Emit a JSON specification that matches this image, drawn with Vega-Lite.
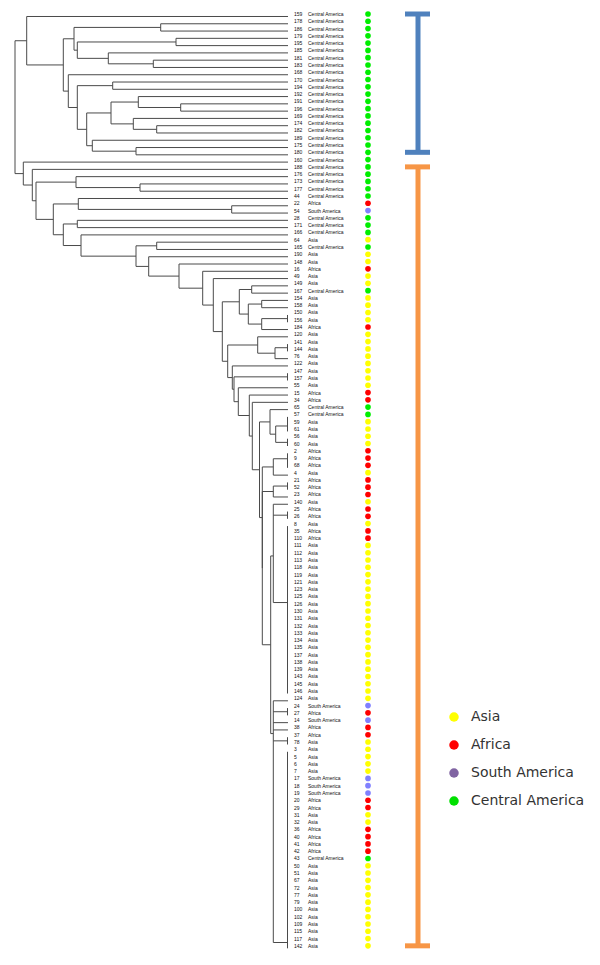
{
"$schema": "https://vega.github.io/schema/vega-lite/v6.json",
"width": 600, "height": 965, "padding": 0,
"autosize": {"type": "fit", "contains": "padding"},
"config": {"view": {"stroke": null}},
"resolve": {"scale": {"y": "independent", "color": "independent"}},
"datasets": {
"tree": [
{"h1":273,"h2":273,"r1":4.33,"r2":22.58},{"h1":273,"h2":261.3,"r1":4.33,"r2":4.33},{"h1":273,"h2":264.7,"r1":22.58,"r2":22.58},
{"h1":261.3,"h2":261.3,"r1":1,"r2":7.656},{"h1":261.3,"h2":0,"r1":1,"r2":1},{"h1":261.3,"h2":224.7,"r1":7.656,"r2":7.656},
{"h1":224.7,"h2":224.7,"r1":4.0625,"r2":11.25},{"h1":224.7,"h2":214,"r1":4.0625,"r2":4.0625},{"h1":224.7,"h2":219.7,"r1":11.25,"r2":11.25},
{"h1":214,"h2":214,"r1":2.5,"r2":5.625},{"h1":214,"h2":127.3,"r1":2.5,"r2":2.5},{"h1":214,"h2":210.7,"r1":5.625,"r2":5.625},
{"h1":127.3,"h2":127.3,"r1":2,"r2":3},{"h1":127.3,"h2":0,"r1":2,"r2":2},{"h1":127.3,"h2":0,"r1":3,"r2":3},
{"h1":210.7,"h2":210.7,"r1":4.5,"r2":6.75},{"h1":210.7,"h2":112,"r1":4.5,"r2":4.5},{"h1":210.7,"h2":179.7,"r1":6.75,"r2":6.75},
{"h1":112,"h2":112,"r1":4,"r2":5},{"h1":112,"h2":0,"r1":4,"r2":4},{"h1":112,"h2":0,"r1":5,"r2":5},
{"h1":179.7,"h2":179.7,"r1":6,"r2":7.5},{"h1":179.7,"h2":0,"r1":6,"r2":6},{"h1":179.7,"h2":134.7,"r1":7.5,"r2":7.5},
{"h1":134.7,"h2":134.7,"r1":7,"r2":8},{"h1":134.7,"h2":0,"r1":7,"r2":7},{"h1":134.7,"h2":0,"r1":8,"r2":8},
{"h1":219.7,"h2":219.7,"r1":9,"r2":13.5},{"h1":219.7,"h2":0,"r1":9,"r2":9},{"h1":219.7,"h2":210.7,"r1":13.5,"r2":13.5},
{"h1":210.7,"h2":210.7,"r1":10.5,"r2":16.5},{"h1":210.7,"h2":175.3,"r1":10.5,"r2":10.5},{"h1":210.7,"h2":201.3,"r1":16.5,"r2":16.5},
{"h1":175.3,"h2":175.3,"r1":10,"r2":11},{"h1":175.3,"h2":0,"r1":10,"r2":10},{"h1":175.3,"h2":0,"r1":11,"r2":11},
{"h1":201.3,"h2":201.3,"r1":14.25,"r2":18.75},{"h1":201.3,"h2":177,"r1":14.25,"r2":14.25},{"h1":201.3,"h2":195.7,"r1":18.75,"r2":18.75},
{"h1":177,"h2":177,"r1":12.75,"r2":15.75},{"h1":177,"h2":149.7,"r1":12.75,"r2":12.75},{"h1":177,"h2":154.7,"r1":15.75,"r2":15.75},
{"h1":149.7,"h2":149.7,"r1":12,"r2":13.5},{"h1":149.7,"h2":0,"r1":12,"r2":12},{"h1":149.7,"h2":107.3,"r1":13.5,"r2":13.5},
{"h1":107.3,"h2":107.3,"r1":13,"r2":14},{"h1":107.3,"h2":0,"r1":13,"r2":13},{"h1":107.3,"h2":0,"r1":14,"r2":14},
{"h1":154.7,"h2":154.7,"r1":15,"r2":16.5},{"h1":154.7,"h2":0,"r1":15,"r2":15},{"h1":154.7,"h2":131.3,"r1":16.5,"r2":16.5},
{"h1":131.3,"h2":131.3,"r1":16,"r2":17},{"h1":131.3,"h2":0,"r1":16,"r2":16},{"h1":131.3,"h2":0,"r1":17,"r2":17},
{"h1":195.7,"h2":195.7,"r1":18,"r2":19.5},{"h1":195.7,"h2":0,"r1":18,"r2":18},{"h1":195.7,"h2":152,"r1":19.5,"r2":19.5},
{"h1":152,"h2":152,"r1":19,"r2":20},{"h1":152,"h2":0,"r1":19,"r2":19},{"h1":152,"h2":0,"r1":20,"r2":20},
{"h1":264.7,"h2":264.7,"r1":21,"r2":24.15},{"h1":264.7,"h2":0,"r1":21,"r2":21},{"h1":264.7,"h2":255.7,"r1":24.15,"r2":24.15},
{"h1":255.7,"h2":255.7,"r1":22,"r2":26.31},{"h1":255.7,"h2":0,"r1":22,"r2":22},{"h1":255.7,"h2":252,"r1":26.31,"r2":26.31},
{"h1":252,"h2":252,"r1":23.75,"r2":28.87},{"h1":252,"h2":212,"r1":23.75,"r2":23.75},{"h1":252,"h2":234.7,"r1":28.87,"r2":28.87},
{"h1":212,"h2":212,"r1":23,"r2":24.5},{"h1":212,"h2":0,"r1":23,"r2":23},{"h1":212,"h2":148,"r1":24.5,"r2":24.5},
{"h1":148,"h2":148,"r1":24,"r2":25},{"h1":148,"h2":0,"r1":24,"r2":24},{"h1":148,"h2":0,"r1":25,"r2":25},
{"h1":234.7,"h2":234.7,"r1":26.75,"r2":30.98},{"h1":234.7,"h2":209.7,"r1":26.75,"r2":26.75},{"h1":234.7,"h2":224.7,"r1":30.98,"r2":30.98},
{"h1":209.7,"h2":209.7,"r1":26,"r2":27.5},{"h1":209.7,"h2":0,"r1":26,"r2":26},{"h1":209.7,"h2":56.3,"r1":27.5,"r2":27.5},
{"h1":56.3,"h2":56.3,"r1":27,"r2":28},{"h1":56.3,"h2":0,"r1":27,"r2":27},{"h1":56.3,"h2":0,"r1":28,"r2":28},
{"h1":224.7,"h2":224.7,"r1":29.5,"r2":32.46},{"h1":224.7,"h2":210.7,"r1":29.5,"r2":29.5},{"h1":224.7,"h2":207,"r1":32.46,"r2":32.46},
{"h1":210.7,"h2":210.7,"r1":29,"r2":30},{"h1":210.7,"h2":0,"r1":29,"r2":29},{"h1":210.7,"h2":0,"r1":30,"r2":30},
{"h1":207,"h2":207,"r1":31,"r2":33.92},{"h1":207,"h2":0,"r1":31,"r2":31},{"h1":207,"h2":152,"r1":33.92,"r2":33.92},
{"h1":152,"h2":152,"r1":32.5,"r2":35.33},{"h1":152,"h2":131.3,"r1":32.5,"r2":32.5},{"h1":152,"h2":139.3,"r1":35.33,"r2":35.33},
{"h1":131.3,"h2":131.3,"r1":32,"r2":33},{"h1":131.3,"h2":0,"r1":32,"r2":32},{"h1":131.3,"h2":0,"r1":33,"r2":33},
{"h1":139.3,"h2":139.3,"r1":34,"r2":36.66},{"h1":139.3,"h2":0,"r1":34,"r2":34},{"h1":139.3,"h2":109,"r1":36.66,"r2":36.66},
{"h1":109,"h2":109,"r1":35,"r2":38.32},{"h1":109,"h2":0,"r1":35,"r2":35},{"h1":109,"h2":85.3,"r1":38.32,"r2":38.32},
{"h1":85.3,"h2":85.3,"r1":36,"r2":40.64},{"h1":85.3,"h2":0,"r1":36,"r2":36},{"h1":85.3,"h2":74.7,"r1":40.64,"r2":40.64},
{"h1":74.7,"h2":74.7,"r1":37,"r2":44.28},{"h1":74.7,"h2":0,"r1":37,"r2":37},{"h1":74.7,"h2":65.7,"r1":44.28,"r2":44.28},
{"h1":65.7,"h2":65.7,"r1":40.19,"r2":48.36},{"h1":65.7,"h2":48.7,"r1":40.19,"r2":40.19},{"h1":65.7,"h2":60.3,"r1":48.36,"r2":48.36},
{"h1":48.7,"h2":48.7,"r1":38.5,"r2":41.875},{"h1":48.7,"h2":36.3,"r1":38.5,"r2":38.5},{"h1":48.7,"h2":39.7,"r1":41.875,"r2":41.875},
{"h1":36.3,"h2":36.3,"r1":38,"r2":39},{"h1":36.3,"h2":0,"r1":38,"r2":38},{"h1":36.3,"h2":0,"r1":39,"r2":39},
{"h1":39.7,"h2":39.7,"r1":40.5,"r2":43.25},{"h1":39.7,"h2":26.3,"r1":40.5,"r2":40.5},{"h1":39.7,"h2":26.3,"r1":43.25,"r2":43.25},
{"h1":26.3,"h2":26.3,"r1":40,"r2":41},{"h1":26.3,"h2":0,"r1":40,"r2":40},{"h1":26.3,"h2":0,"r1":41,"r2":41},
{"h1":26.3,"h2":26.3,"r1":42.5,"r2":44},{"h1":26.3,"h2":0.5,"r1":42.5,"r2":42.5},{"h1":26.3,"h2":0,"r1":44,"r2":44},
{"h1":0.5,"h2":0.5,"r1":42,"r2":43},
{"h1":60.3,"h2":60.3,"r1":46.125,"r2":50.6},{"h1":60.3,"h2":30.3,"r1":46.125,"r2":46.125},{"h1":60.3,"h2":55.7,"r1":50.6,"r2":50.6},
{"h1":30.3,"h2":30.3,"r1":45,"r2":47.25},{"h1":30.3,"h2":0,"r1":45,"r2":45},{"h1":30.3,"h2":13,"r1":47.25,"r2":47.25},
{"h1":13,"h2":13,"r1":46.5,"r2":48},{"h1":13,"h2":0.5,"r1":46.5,"r2":46.5},{"h1":13,"h2":0,"r1":48,"r2":48},
{"h1":0.5,"h2":0.5,"r1":46,"r2":47},
{"h1":55.7,"h2":55.7,"r1":49,"r2":52.2},{"h1":55.7,"h2":0,"r1":49,"r2":49},{"h1":55.7,"h2":54,"r1":52.2,"r2":52.2},
{"h1":54,"h2":54,"r1":50.5,"r2":53.91},{"h1":54,"h2":0.5,"r1":50.5,"r2":50.5},{"h1":54,"h2":49.7,"r1":53.91,"r2":53.91},
{"h1":0.5,"h2":0.5,"r1":50,"r2":51},
{"h1":49.7,"h2":49.7,"r1":52,"r2":55.81},{"h1":49.7,"h2":0,"r1":52,"r2":52},{"h1":49.7,"h2":38.7,"r1":55.81,"r2":55.81},
{"h1":38.7,"h2":38.7,"r1":53,"r2":58.63},{"h1":38.7,"h2":0,"r1":53,"r2":53},{"h1":38.7,"h2":35.7,"r1":58.63,"r2":58.63},
{"h1":35.7,"h2":35.7,"r1":54,"r2":63.26},{"h1":35.7,"h2":0,"r1":54,"r2":54},{"h1":35.7,"h2":28.5,"r1":63.26,"r2":63.26},
{"h1":28.5,"h2":28.5,"r1":56.69,"r2":69.83},{"h1":28.5,"h2":18,"r1":56.69,"r2":56.69},{"h1":28.5,"h2":25.7,"r1":69.83,"r2":69.83},
{"h1":18,"h2":18,"r1":55,"r2":58.375},{"h1":18,"h2":0,"r1":55,"r2":55},{"h1":18,"h2":12.3,"r1":58.375,"r2":58.375},
{"h1":12.3,"h2":12.3,"r1":57.25,"r2":59.5},{"h1":12.3,"h2":0.5,"r1":57.25,"r2":57.25},{"h1":12.3,"h2":0.5,"r1":59.5,"r2":59.5},
{"h1":0.5,"h2":0.5,"r1":56,"r2":58},{"h1":0.5,"h2":0.5,"r1":59,"r2":60},
{"h1":25.7,"h2":25.7,"r1":62.875,"r2":76.78},{"h1":25.7,"h2":14.7,"r1":62.875,"r2":62.875},
{"h1":14.7,"h2":14.7,"r1":61.75,"r2":64},{"h1":14.7,"h2":0.5,"r1":61.75,"r2":61.75},{"h1":14.7,"h2":0,"r1":64,"r2":64},
{"h1":0.5,"h2":0.5,"r1":61,"r2":63},
{"h1":25.7,"h2":25.7,"r1":66.25,"r2":87.3},{"h1":25.7,"h2":14.7,"r1":66.25,"r2":66.25},{"h1":25.7,"h2":17.3,"r1":87.3,"r2":87.3},
{"h1":14.7,"h2":14.7,"r1":65.5,"r2":67},{"h1":14.7,"h2":0.5,"r1":65.5,"r2":65.5},{"h1":14.7,"h2":0,"r1":67,"r2":67},
{"h1":0.5,"h2":0.5,"r1":65,"r2":66},
{"h1":17.3,"h2":17.3,"r1":75.1,"r2":99.5},{"h1":17.3,"h2":14.7,"r1":75.1,"r2":75.1},{"h1":17.3,"h2":14.7,"r1":99.5,"r2":99.5},
{"h1":14.7,"h2":14.7,"r1":68,"r2":81.5},{"h1":14.7,"h2":0,"r1":68,"r2":68},{"h1":14.7,"h2":0.5,"r1":69.5,"r2":69.5},{"h1":14.7,"h2":0.5,"r1":81.5,"r2":81.5},
{"h1":0.5,"h2":0.5,"r1":69,"r2":70},{"h1":0.5,"h2":0.5,"r1":71,"r2":94},
{"h1":14.7,"h2":14.7,"r1":95,"r2":128.2},{"h1":14.7,"h2":0,"r1":95,"r2":95},{"h1":14.7,"h2":0.5,"r1":96.5,"r2":96.5},{"h1":14.7,"h2":0,"r1":98,"r2":98},{"h1":14.7,"h2":0,"r1":99,"r2":99},{"h1":14.7,"h2":0.5,"r1":100.5,"r2":100.5},{"h1":14.7,"h2":0.5,"r1":128.2,"r2":128.2},
{"h1":0.5,"h2":0.5,"r1":96,"r2":97},{"h1":0.5,"h2":0.5,"r1":100,"r2":101},{"h1":0.5,"h2":0.5,"r1":102,"r2":129}
],
"leaves": [
{"row":1,"id":"159","region":"Central America"},{"row":2,"id":"178","region":"Central America"},{"row":3,"id":"186","region":"Central America"},{"row":4,"id":"179","region":"Central America"},{"row":5,"id":"195","region":"Central America"},{"row":6,"id":"185","region":"Central America"},{"row":7,"id":"181","region":"Central America"},{"row":8,"id":"183","region":"Central America"},{"row":9,"id":"168","region":"Central America"},{"row":10,"id":"170","region":"Central America"},
{"row":11,"id":"194","region":"Central America"},{"row":12,"id":"192","region":"Central America"},{"row":13,"id":"191","region":"Central America"},{"row":14,"id":"196","region":"Central America"},{"row":15,"id":"169","region":"Central America"},{"row":16,"id":"174","region":"Central America"},{"row":17,"id":"182","region":"Central America"},{"row":18,"id":"189","region":"Central America"},{"row":19,"id":"175","region":"Central America"},{"row":20,"id":"180","region":"Central America"},
{"row":21,"id":"160","region":"Central America"},{"row":22,"id":"188","region":"Central America"},{"row":23,"id":"176","region":"Central America"},{"row":24,"id":"173","region":"Central America"},{"row":25,"id":"177","region":"Central America"},{"row":26,"id":"44","region":"Central America"},{"row":27,"id":"22","region":"Africa"},{"row":28,"id":"54","region":"South America"},{"row":29,"id":"28","region":"Central America"},{"row":30,"id":"171","region":"Central America"},
{"row":31,"id":"166","region":"Central America"},{"row":32,"id":"64","region":"Asia"},{"row":33,"id":"165","region":"Central America"},{"row":34,"id":"190","region":"Asia"},{"row":35,"id":"148","region":"Asia"},{"row":36,"id":"16","region":"Africa"},{"row":37,"id":"49","region":"Asia"},{"row":38,"id":"149","region":"Asia"},{"row":39,"id":"167","region":"Central America"},{"row":40,"id":"154","region":"Asia"},
{"row":41,"id":"158","region":"Asia"},{"row":42,"id":"150","region":"Asia"},{"row":43,"id":"156","region":"Asia"},{"row":44,"id":"184","region":"Africa"},{"row":45,"id":"120","region":"Asia"},{"row":46,"id":"141","region":"Asia"},{"row":47,"id":"144","region":"Asia"},{"row":48,"id":"76","region":"Asia"},{"row":49,"id":"122","region":"Asia"},{"row":50,"id":"147","region":"Asia"},
{"row":51,"id":"157","region":"Asia"},{"row":52,"id":"55","region":"Asia"},{"row":53,"id":"15","region":"Africa"},{"row":54,"id":"34","region":"Africa"},{"row":55,"id":"65","region":"Central America"},{"row":56,"id":"57","region":"Central America"},{"row":57,"id":"59","region":"Asia"},{"row":58,"id":"61","region":"Asia"},{"row":59,"id":"56","region":"Asia"},{"row":60,"id":"60","region":"Asia"},
{"row":61,"id":"2","region":"Africa"},{"row":62,"id":"9","region":"Africa"},{"row":63,"id":"68","region":"Africa"},{"row":64,"id":"4","region":"Asia"},{"row":65,"id":"21","region":"Africa"},{"row":66,"id":"52","region":"Africa"},{"row":67,"id":"23","region":"Africa"},{"row":68,"id":"140","region":"Asia"},{"row":69,"id":"25","region":"Africa"},{"row":70,"id":"26","region":"Africa"},
{"row":71,"id":"8","region":"Asia"},{"row":72,"id":"35","region":"Africa"},{"row":73,"id":"110","region":"Africa"},{"row":74,"id":"111","region":"Asia"},{"row":75,"id":"112","region":"Asia"},{"row":76,"id":"113","region":"Asia"},{"row":77,"id":"118","region":"Asia"},{"row":78,"id":"119","region":"Asia"},{"row":79,"id":"121","region":"Asia"},{"row":80,"id":"123","region":"Asia"},
{"row":81,"id":"125","region":"Asia"},{"row":82,"id":"126","region":"Asia"},{"row":83,"id":"130","region":"Asia"},{"row":84,"id":"131","region":"Asia"},{"row":85,"id":"132","region":"Asia"},{"row":86,"id":"133","region":"Asia"},{"row":87,"id":"134","region":"Asia"},{"row":88,"id":"135","region":"Asia"},{"row":89,"id":"137","region":"Asia"},{"row":90,"id":"138","region":"Asia"},
{"row":91,"id":"139","region":"Asia"},{"row":92,"id":"143","region":"Asia"},{"row":93,"id":"145","region":"Asia"},{"row":94,"id":"146","region":"Asia"},{"row":95,"id":"124","region":"Asia"},{"row":96,"id":"24","region":"South America"},{"row":97,"id":"27","region":"Africa"},{"row":98,"id":"14","region":"South America"},{"row":99,"id":"38","region":"Africa"},{"row":100,"id":"37","region":"Africa"},
{"row":101,"id":"78","region":"Asia"},{"row":102,"id":"3","region":"Asia"},{"row":103,"id":"5","region":"Asia"},{"row":104,"id":"6","region":"Asia"},{"row":105,"id":"7","region":"Asia"},{"row":106,"id":"17","region":"South America"},{"row":107,"id":"18","region":"South America"},{"row":108,"id":"19","region":"South America"},{"row":109,"id":"20","region":"Africa"},{"row":110,"id":"29","region":"Africa"},
{"row":111,"id":"31","region":"Asia"},{"row":112,"id":"32","region":"Asia"},{"row":113,"id":"36","region":"Africa"},{"row":114,"id":"40","region":"Africa"},{"row":115,"id":"41","region":"Africa"},{"row":116,"id":"42","region":"Africa"},{"row":117,"id":"43","region":"Central America"},{"row":118,"id":"50","region":"Asia"},{"row":119,"id":"51","region":"Asia"},{"row":120,"id":"67","region":"Asia"},
{"row":121,"id":"72","region":"Asia"},{"row":122,"id":"77","region":"Asia"},{"row":123,"id":"79","region":"Asia"},{"row":124,"id":"100","region":"Asia"},{"row":125,"id":"102","region":"Asia"},{"row":126,"id":"109","region":"Asia"},{"row":127,"id":"115","region":"Asia"},{"row":128,"id":"117","region":"Asia"},{"row":129,"id":"142","region":"Asia"}
],
"groups": [{"group":"Group A","first":1,"last":20},{"group":"Group B","first":22,"last":129}],
"legendEntries": [{"region":"Asia"},{"region":"Africa"},{"region":"South America"},{"region":"Central America"}]
},
"layer": [
{"data":{"name":"tree"},"mark":{"type":"rule","color":"#4a4a4a","strokeWidth":1},
 "encoding":{"x":{"field":"h1","type":"quantitative","scale":{"domain":[-312,288],"reverse":true,"nice":false,"zero":false},"axis":null},"x2":{"field":"h2"},
 "y":{"field":"r1","type":"quantitative","scale":{"domain":[-1.266,131.29],"reverse":true,"nice":false,"zero":false},"axis":null},"y2":{"field":"r2"}}},
{"mark":{"type":"rule","color":"#b4b4b4","strokeWidth":1.5},
 "encoding":{"x":{"datum":274,"type":"quantitative"},"x2":{"datum":-2},"y":{"datum":0.66,"type":"quantitative","scale":{"domain":[-1.266,131.29],"reverse":true,"nice":false,"zero":false},"axis":null}}},
{"data":{"name":"leaves"},"mark":{"type":"text","align":"left","baseline":"middle","fontSize":5,"font":"Liberation Sans","color":"#111"},
 "encoding":{"x":{"datum":-6,"type":"quantitative"},"y":{"field":"row","type":"quantitative","scale":{"domain":[-0.923,131.633],"reverse":true,"nice":false,"zero":false},"axis":null},"text":{"field":"id"}}},
{"data":{"name":"leaves"},"mark":{"type":"text","align":"left","baseline":"middle","fontSize":5,"font":"Liberation Sans","color":"#111"},
 "encoding":{"x":{"datum":-20,"type":"quantitative"},"y":{"field":"row","type":"quantitative","scale":{"domain":[-0.923,131.633],"reverse":true,"nice":false,"zero":false},"axis":null},"text":{"field":"region"}}},
{"data":{"name":"leaves"},"mark":{"type":"point","filled":true,"size":32,"opacity":1,"strokeWidth":0},
 "encoding":{"x":{"datum":-80,"type":"quantitative"},"y":{"field":"row","type":"quantitative","scale":{"domain":[-0.923,131.633],"reverse":true,"nice":false,"zero":false},"axis":null},
 "color":{"field":"region","type":"nominal","scale":{"domain":["Asia","Africa","South America","Central America"],"range":["#ffff00","#ff0000","#8080ff","#00ee00"]},"legend":null}}},
{"data":{"name":"legendEntries"},"mark":{"type":"point","filled":true,"opacity":0,"size":1},
 "encoding":{"x":{"datum":-80,"type":"quantitative"},"y":{"datum":60,"type":"quantitative","scale":{"domain":[-0.923,131.633],"reverse":true,"nice":false,"zero":false},"axis":null},
 "color":{"field":"region","type":"nominal","sort":null,"scale":{"domain":["Asia","Africa","South America","Central America"],"range":["#ffff00","#ff0000","#8064a2","#00e000"]},
  "legend":{"title":null,"orient":"none","legendX":447,"legendY":710,"symbolType":"circle","symbolSize":90,"symbolOpacity":1,"symbolStrokeWidth":0,"labelFontSize":14,"labelFont":"DejaVu Sans","labelColor":"#333","labelOffset":10,"rowPadding":14,"padding":0}}}},
{"data":{"name":"groups"},"mark":{"type":"rule","strokeWidth":5},
 "encoding":{"x":{"datum":-130,"type":"quantitative"},"y":{"field":"first","type":"quantitative","scale":{"domain":[-0.923,131.633],"reverse":true,"nice":false,"zero":false},"axis":null},"y2":{"field":"last"},
 "color":{"field":"group","type":"nominal","scale":{"domain":["Group A","Group B"],"range":["#4f81bd","#f79646"]},"legend":null}}},
{"data":{"name":"groups"},"mark":{"type":"rule","strokeWidth":5},
 "encoding":{"x":{"datum":-117,"type":"quantitative"},"x2":{"datum":-142},"y":{"field":"first","type":"quantitative","scale":{"domain":[-0.923,131.633],"reverse":true,"nice":false,"zero":false},"axis":null},
 "color":{"field":"group","type":"nominal","scale":{"domain":["Group A","Group B"],"range":["#4f81bd","#f79646"]},"legend":null}}},
{"data":{"name":"groups"},"mark":{"type":"rule","strokeWidth":5},
 "encoding":{"x":{"datum":-117,"type":"quantitative"},"x2":{"datum":-142},"y":{"field":"last","type":"quantitative","scale":{"domain":[-0.923,131.633],"reverse":true,"nice":false,"zero":false},"axis":null},
 "color":{"field":"group","type":"nominal","scale":{"domain":["Group A","Group B"],"range":["#4f81bd","#f79646"]},"legend":null}}},
{"mark":{"type":"text","align":"left","baseline":"middle","fontSize":14,"font":"DejaVu Sans","color":"#333","text":"Group A"},
 "encoding":{"x":{"datum":-167,"type":"quantitative"},"y":{"datum":8.4,"type":"quantitative","scale":{"domain":[-0.923,131.633],"reverse":true,"nice":false,"zero":false},"axis":null}}},
{"mark":{"type":"text","align":"left","baseline":"middle","fontSize":14,"font":"DejaVu Sans","color":"#333","text":"Group B"},
 "encoding":{"x":{"datum":-167,"type":"quantitative"},"y":{"datum":77.9,"type":"quantitative","scale":{"domain":[-0.923,131.633],"reverse":true,"nice":false,"zero":false},"axis":null}}}
]
}
